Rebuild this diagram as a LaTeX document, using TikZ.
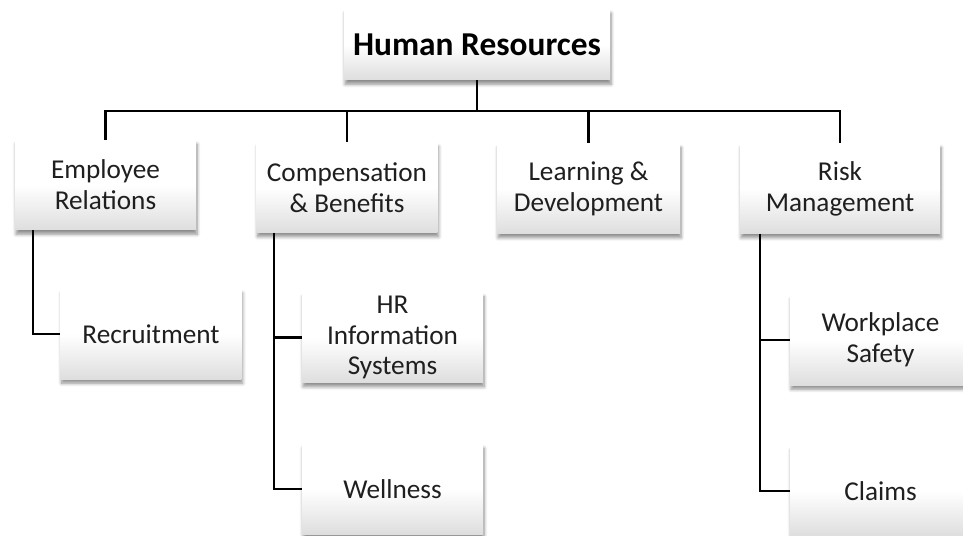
\documentclass[tikz,border=0pt]{standalone}
\usepackage{fontspec}
\setmainfont{Carlito}
\usepackage{tikz}
\usetikzlibrary{calc,shapes,shadows.blur}
\tikzstyle{every picture}=[x=0.02cm,y=-0.02cm]
\tikzstyle{unit}=[rectangle,inner sep=0pt,align=center,text=black!88,
  minimum width=3.62cm,minimum height=1.8cm,
  top color=white,bottom color=black!13,middle color=white,
  blur shadow={shadow xshift=0.6pt,shadow yshift=-2.4pt,shadow blur steps=6,shadow opacity=45},
  font=\fontsize{15.5}{17.6}\selectfont]
\tikzstyle{link}=[-,line width=1.2pt,black]

\begin{document}
\begin{tikzpicture}
    \path[use as bounding box,clip] (0,0) rectangle (963,535);

    % Top of the chart
    \node[unit,minimum width=5.32cm,minimum height=1.42cm,text=black,font=\fontsize{19}{22}\selectfont\bfseries] (hr) at (477,44.5) {Human Resources};

    % Departments
    \node[unit] (er) at (105.5,185) {Employee\\Relations};
    \node[unit] (cb) at (347,187.5) {Compensation\\\& Benefits};
    \node[unit,minimum width=3.66cm] (ld) at (588.5,188.5) {Learning \&\\Development};
    \node[unit,minimum width=4cm] (rm) at (840,188.5) {Risk\\Management};

    % Sub units
    \node[unit] (rec) at (151,334) {Recruitment};
    \node[unit] (hris) at (392.5,337.5) {HR\\Information\\Systems};
    \node[unit] (well) at (392.5,489) {Wellness};
    \node[unit] (wps) at (880.5,340) {Workplace\\Safety};
    \node[unit] (clm) at (880.5,491) {Claims};

    % Bus under the top box
    \coordinate (bus) at (477,111);
    \draw[link] (hr.south) -- (bus);
    \draw[link] (hr.south |- bus) -| (er.north);
    \draw[link] (hr.south |- bus) -| (cb.north);
    \draw[link] (hr.south |- bus) -| (ld.north);
    \draw[link] (hr.south |- bus) -| (rm.north);

    % Lines down to the sub units
    \draw[link] ([xshift=0.36cm]er.south west) |- (rec.west);
    \draw[link] ([xshift=0.36cm]cb.south west) |- (hris.west);
    \draw[link] ([xshift=0.36cm]cb.south west) |- (well.west);
    \draw[link] ([xshift=0.4cm]rm.south west) |- (wps.west);
    \draw[link] ([xshift=0.4cm]rm.south west) |- (clm.west);

\end{tikzpicture}
\end{document}
